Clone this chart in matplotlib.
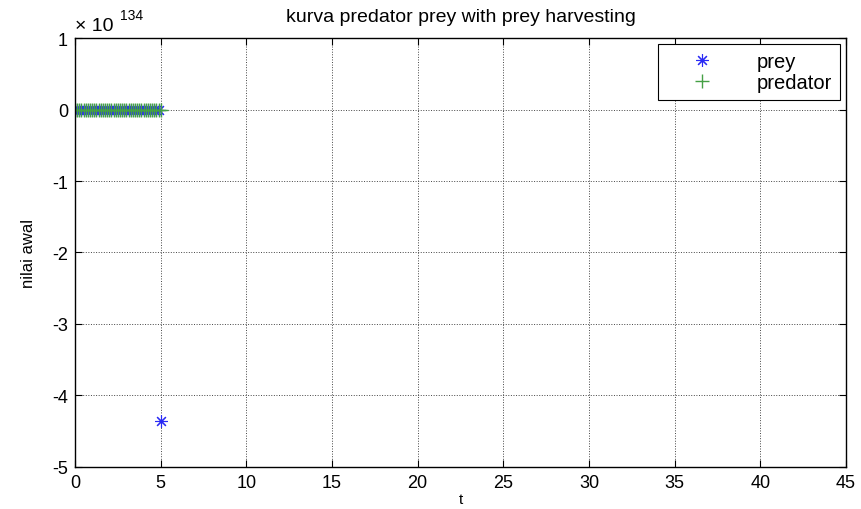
import matplotlib.pyplot as plt
from matplotlib.ticker import MultipleLocator, FuncFormatter

plt.rcParams['font.family'] = ['Liberation Sans', 'DejaVu Sans']
plt.rcParams['axes.unicode_minus'] = False

# time samples and populations (prey blows up at the last step)
t = [0, 0.125, 0.25, 0.375, 0.5, 0.625, 0.75, 0.875, 1, 1.125, 1.25,
     1.375, 1.5, 1.625, 1.75, 1.875, 2, 2.125, 2.25, 2.375, 2.5,
     2.625, 2.75, 2.875, 3, 3.125, 3.25, 3.375, 3.5, 3.625, 3.75,
     3.875, 4, 4.125, 4.25, 4.375, 4.5, 4.625, 4.75, 4.875, 5]
prey = [0, 0, 0, 0, 0, 0, 0, 0, 0, 0, 0,
        0, 0, 0, 0, 0, 0, 0, 0, 0, 0,
        0, 0, 0, 0, 0, 0, 0, 0, 0, 0,
        0, 0, 0, 0, 0, 0, 0, 0, 0, -4.35e134]
predator = [0, 0, 0, 0, 0, 0, 0, 0, 0, 0, 0,
            0, 0, 0, 0, 0, 0, 0, 0, 0, 0,
            0, 0, 0, 0, 0, 0, 0, 0, 0, 0,
            0, 0, 0, 0, 0, 0, 0, 0, 0, 0]
scale = 1e134

fig = plt.figure(figsize=(8.61, 5.10), dpi=100)
ax = fig.add_axes([0.0871, 0.0824, 0.8955, 0.8411])

ax.plot(t, prey, linestyle='none', marker=(8, 2, 0), color='#2a2af5',
        markersize=9, markeredgewidth=0.8, label='prey')
ax.plot(t, predator, linestyle='none', marker='+', color='#45a045',
        markersize=10, markeredgewidth=1.0, label='predator')

ax.set_xlim(0, 45)
ax.set_ylim(-5 * scale, 1 * scale)
ax.xaxis.set_major_locator(MultipleLocator(5))
ax.yaxis.set_major_locator(MultipleLocator(scale))
ax.yaxis.set_major_formatter(FuncFormatter(lambda v, p: '%d' % round(v / scale)))
# exponent label in the top-left corner
ax.text(0.0, 1.019, '× 10', transform=ax.transAxes, fontsize=14,
        ha='left', va='baseline')
ax.text(0.058, 1.045, '134', transform=ax.transAxes, fontsize=10,
        ha='left', va='baseline')

ax.grid(True, linestyle=':', color='#444444', linewidth=0.7)
ax.tick_params(direction='in', length=5, width=0.8, top=True, right=True,
               labelsize=13, colors='black', pad=5)
for s in ax.spines.values():
    s.set_linewidth(1.0)

ax.set_title('kurva predator prey with prey harvesting', fontsize=14, pad=12)
ax.set_xlabel('t', fontsize=11, labelpad=1)
ax.set_ylabel('nilai awal', fontsize=12, labelpad=12)

leg = ax.legend(loc='upper right', fontsize=14.5, fancybox=False,
                edgecolor='black', framealpha=1, borderaxespad=0.3,
                handlelength=3.6, handletextpad=0.9, borderpad=0.4,
                labelspacing=0.1)
leg.get_frame().set_linewidth(0.8)

fig.savefig('out.png', dpi=100)
